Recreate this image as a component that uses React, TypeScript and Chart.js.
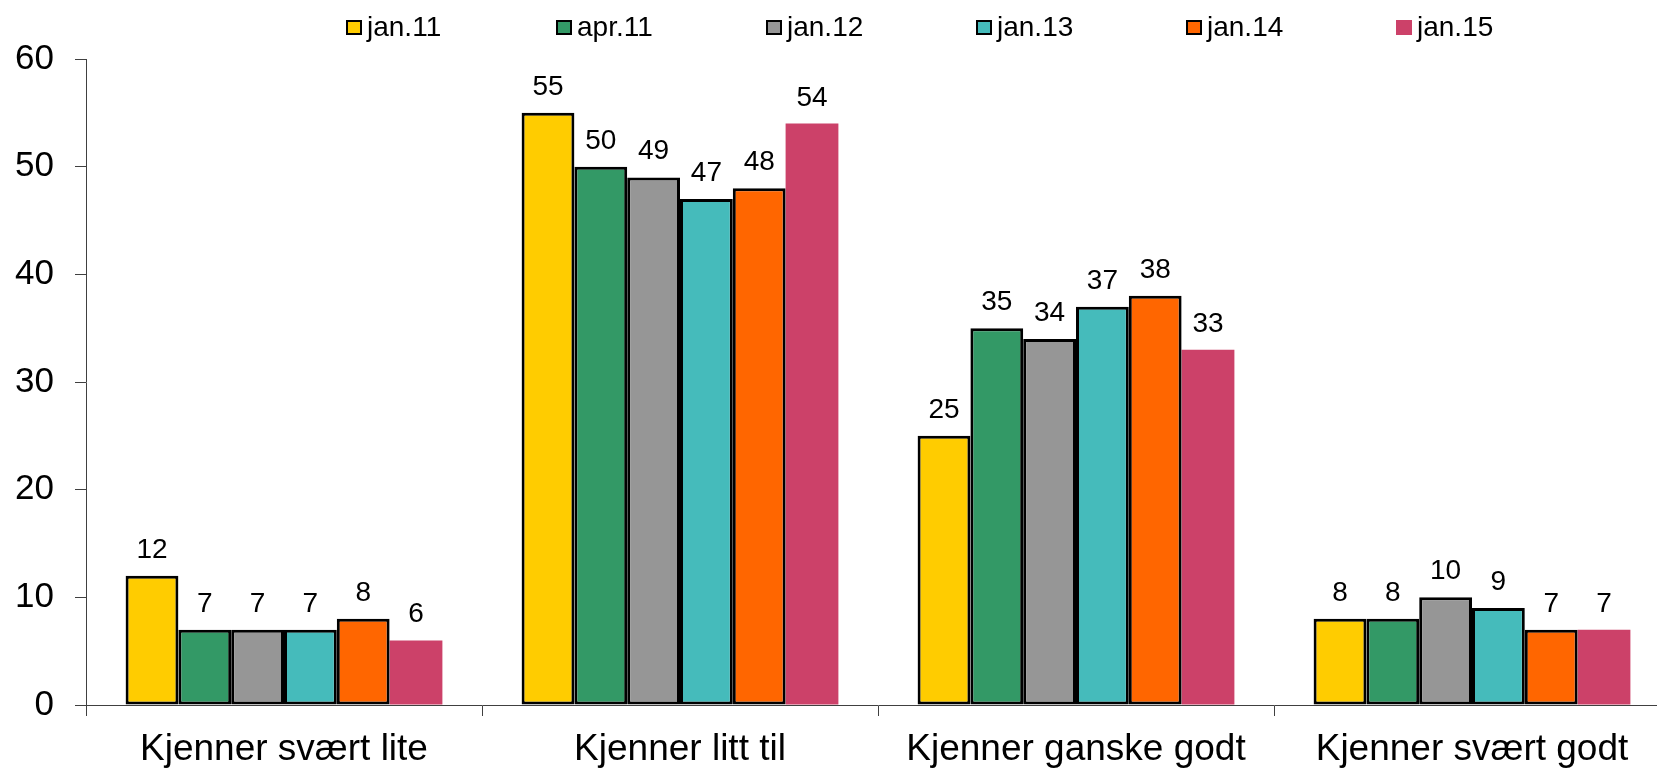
import React, { useEffect, useRef } from "react";
import { Chart, registerables } from "chart.js";

Chart.register(...registerables);

const FONT = '"Liberation Sans", Arial, Helvetica, sans-serif';

const categories = [
  "Kjenner svært lite",
  "Kjenner litt til",
  "Kjenner ganske godt",
  "Kjenner svært godt",
];
const seriesLabels = ["jan.11", "apr.11", "jan.12", "jan.13", "jan.14", "jan.15"];
const jan11 = [12, 55, 25, 8];
const apr11 = [7, 50, 35, 8];
const jan12 = [7, 49, 34, 10];
const jan13 = [7, 47, 37, 9];
const jan14 = [8, 48, 38, 7];
const jan15 = [6, 54, 33, 7];
const seriesValues = [jan11, apr11, jan12, jan13, jan14, jan15];
const yTicks = [0, 10, 20, 30, 40, 50, 60];

const colors = ["#FFCC00", "#339966", "#969696", "#45BBBB", "#FF6600", "#CC4169"];
const bordered = [true, true, true, true, true, false];

const valueLabels = {
  id: "valueLabels",
  afterDatasetsDraw(chart: any) {
    const ctx = chart.ctx;
    ctx.save();
    ctx.font = `28px ${FONT}`;
    ctx.fillStyle = "#000";
    ctx.textAlign = "center";
    ctx.textBaseline = "alphabetic";
    chart.data.datasets.forEach((ds: any, di: number) => {
      const meta = chart.getDatasetMeta(di);
      meta.data.forEach((el: any, i: number) => {
        ctx.fillText(String(ds.data[i]), el.x, el.y - 18);
      });
    });
    ctx.restore();
  },
};

export default function App() {
  const canvasRef = useRef<HTMLCanvasElement | null>(null);

  useEffect(() => {
    if (!canvasRef.current) return;
    const chart = new Chart(canvasRef.current, {
      type: "bar",
      data: {
        labels: categories,
        datasets: seriesLabels.map((label, i) => ({
          label,
          data: seriesValues[i],
          backgroundColor: colors[i],
          borderColor: "#000",
          borderWidth: bordered[i] ? 3 : 0,
          borderSkipped: false,
          categoryPercentage: 0.8,
          barPercentage: 1.0,
        })),
      },
      options: {
        responsive: false,
        animation: false,
        devicePixelRatio: 1,
        layout: { padding: { top: 59, left: 0, right: 0, bottom: 0 } },
        plugins: {
          legend: { display: false },
          tooltip: { enabled: false },
          title: { display: false },
        },
        scales: {
          x: {
            grid: {
              display: true,
              drawOnChartArea: false,
              drawTicks: true,
              tickLength: 11,
              color: "#404040",
              lineWidth: 1,
              offset: true,
            },
            border: { display: true, color: "#404040", width: 1 },
            ticks: {
              color: "#000",
              font: { family: FONT, size: 37 },
              padding: 12,
              maxRotation: 0,
              autoSkip: false,
            },
            afterFit: (s: any) => {
              s.height = 64;
            },
          },
          y: {
            min: 0,
            max: 60,
            afterBuildTicks: (s: any) => {
              s.ticks = yTicks.map((v) => ({ value: v }));
            },
            ticks: {
              color: "#000",
              font: { family: FONT, size: 35 },
              padding: 21,
            },
            grid: {
              display: true,
              drawOnChartArea: false,
              drawTicks: true,
              tickLength: 11,
              color: "#404040",
              lineWidth: 1,
            },
            border: { display: true, color: "#404040", width: 1 },
            afterFit: (s: any) => {
              s.width = 86;
            },
          },
        },
      },
      plugins: [valueLabels],
    });
    return () => chart.destroy();
  }, []);

  return (
    <div
      style={{
        position: "fixed",
        left: 0,
        top: 0,
        width: "1657px",
        height: "769px",
        overflow: "hidden",
        background: "#fff",
      }}
    >
      <canvas
        ref={canvasRef}
        width={1670}
        height={769}
        style={{ position: "absolute", left: 0, top: 0, width: "1670px", height: "769px" }}
      />
      <div
        style={{
          position: "absolute",
          left: "346px",
          top: "0px",
          height: "54px",
          display: "flex",
          alignItems: "center",
          fontFamily: FONT,
          fontSize: "28px",
          color: "#000",
        }}
      >
        {seriesLabels.map((label, i) => (
          <div
            key={label}
            style={{ width: "210px", display: "flex", alignItems: "center" }}
          >
            <span
              style={{
                display: "inline-block",
                width: "16px",
                height: "15px",
                boxSizing: "border-box",
                background: colors[i],
                border: bordered[i] ? "2px solid #000" : "none",
                marginRight: "5px",
              }}
            />
            <span>{label}</span>
          </div>
        ))}
      </div>
    </div>
  );
}
